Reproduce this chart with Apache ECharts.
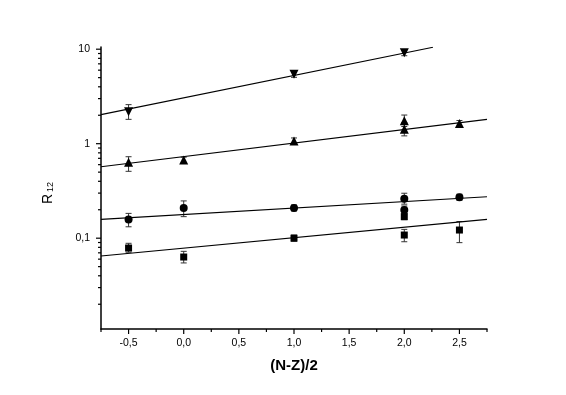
<!DOCTYPE html>
<html>
<head>
<meta charset="utf-8">
<script src="https://cdn.jsdelivr.net/npm/echarts@6/dist/echarts.min.js"></script>
<style>
html, body { margin: 0; padding: 0; background: #fff; }
#chart { width: 566px; height: 395px; }
</style>
</head>
<body>
<div id="chart"></div>
<script>
// ▼ points
const downX = [-0.5, 1.0, 2.0];
const downY = [2.18, 5.42, 9.18];
const downLo = [1.81, 5.04, 8.53];
const downHi = [2.59, 5.83, 9.88];

// ▲ points
const upX = [-0.5, 0.0, 1.0, 2.0, 2.0, 2.5];
const upY = [0.636, 0.672, 1.07, 1.75, 1.42, 1.64];
const upLo = [0.51, 0.625, 0.995, 1.52, 1.21, 1.52];
const upHi = [0.728, 0.72, 1.15, 2.01, 1.67, 1.76];

// ● points
const dotX = [-0.5, 0.0, 1.0, 2.0, 2.0, 2.5];
const dotY = [0.158, 0.209, 0.209, 0.262, 0.199, 0.271];
const dotLo = [0.132, 0.169, 0.194, 0.229, 0.181, 0.252];
const dotHi = [0.183, 0.248, 0.225, 0.299, 0.219, 0.292];

// ■ points
const sqX = [-0.5, 0.0, 1.0, 2.0, 2.0, 2.5];
const sqY = [0.0787, 0.0632, 0.1, 0.169, 0.108, 0.122];
const sqLo = [0.071, 0.0547, 0.093, 0.157, 0.0917, 0.0897];
const sqHi = [0.0883, 0.0726, 0.108, 0.182, 0.124, 0.15];

// fitted lines, end points
const fitDownX = [-0.75, 2.26];
const fitDownY = [2.03, 10.47];
const fitUpX = [-0.75, 2.75];
const fitUpY = [0.571, 1.81];
const fitDotX = [-0.75, 2.75];
const fitDotY = [0.158, 0.275];
const fitSqX = [-0.75, 2.75];
const fitSqY = [0.0649, 0.158];

// axis ticks
const xMajorTicks = [-0.5, 0, 0.5, 1, 1.5, 2, 2.5];
const xMinorTicks = [-0.75, -0.25, 0.25, 0.75, 1.25, 1.75, 2.25, 2.75];
const yMajorTicks = [0.1, 1, 10];
const yMinorTicks = [0.02, 0.03, 0.04, 0.05, 0.06, 0.07, 0.08, 0.09,
    0.2, 0.3, 0.4, 0.5, 0.6, 0.7, 0.8, 0.9,
    2, 3, 4, 5, 6, 7, 8, 9];

const xMin = -0.75, xMax = 2.75;
const yMin = 0.01094, yMax = 10.55;
const font = 'Liberation Sans';

const zip = (xs, ys) => xs.map((x, i) => [x, ys[i]]);
const bars = (xs, lo, hi) => xs.map((x, i) => [x, lo[i], hi[i]]);

// ticks: [x, y, 0 = y axis / 1 = x axis, major]
const tickData = [
    ...yMajorTicks.map(v => [xMin, v, 0, 1]),
    ...yMinorTicks.map(v => [xMin, v, 0, 0]),
    ...xMajorTicks.map(v => [v, yMin, 1, 1]),
    ...xMinorTicks.map(v => [v, yMin, 1, 0])
];

function renderTick(params, api) {
    const p = api.coord([api.value(0), api.value(1)]);
    const len = api.value(3) ? 5 : 3;
    const shape = api.value(2) === 1
        ? { x1: p[0], y1: p[1], x2: p[0], y2: p[1] + len }
        : { x1: p[0] - len, y1: p[1], x2: p[0], y2: p[1] };
    return { type: 'line', shape: shape, style: { stroke: '#000', lineWidth: 1.2 } };
}

function renderBar(params, api) {
    const lo = api.coord([api.value(0), api.value(1)]);
    const hi = api.coord([api.value(0), api.value(2)]);
    const w = 3;
    const style = { stroke: '#333', lineWidth: 1 };
    return {
        type: 'group',
        children: [
            { type: 'line', shape: { x1: lo[0], y1: lo[1], x2: hi[0], y2: hi[1] }, style: style },
            { type: 'line', shape: { x1: lo[0] - w, y1: lo[1], x2: lo[0] + w, y2: lo[1] }, style: style },
            { type: 'line', shape: { x1: hi[0] - w, y1: hi[1], x2: hi[0] + w, y2: hi[1] }, style: style }
        ]
    };
}

const barSeries = (data) => ({
    type: 'custom', renderItem: renderBar, data: data,
    encode: { x: 0, y: [1, 2] }, clip: false, silent: true, z: 2
});
const pointSeries = (data, symbol, size, rotate) => ({
    type: 'scatter', data: data, symbol: symbol, symbolSize: size, symbolRotate: rotate || 0,
    itemStyle: { color: '#000', opacity: 1 }, silent: true, z: 4
});
const fitSeries = (data) => ({
    type: 'line', data: data, showSymbol: false, symbol: 'none',
    lineStyle: { color: '#000', width: 1.1 }, silent: true, z: 3
});

const chart = echarts.init(document.getElementById('chart'));
chart.setOption({
    animation: false,
    backgroundColor: '#fff',
    grid: { left: 101, right: 79, top: 47, bottom: 66, containLabel: false, outerBoundsMode: 'none' },
    xAxis: {
        type: 'value', min: xMin, max: xMax, interval: 0.25,
        axisLine: { onZero: false, lineStyle: { color: '#000', width: 1.5 } },
        axisTick: { show: false },
        splitLine: { show: false },
        axisLabel: {
            margin: 9, color: '#000', fontSize: 10.5, fontFamily: font,
            formatter: v => Math.abs(v * 2 - Math.round(v * 2)) < 1e-6 ? v.toFixed(1).replace('.', ',') : ''
        },
        name: '(N-Z)/2', nameLocation: 'middle', nameGap: 29,
        nameTextStyle: { color: '#000', fontSize: 15, fontWeight: 'bold', fontFamily: font }
    },
    yAxis: {
        type: 'log', logBase: 10, min: yMin, max: yMax,
        axisLine: { show: true, onZero: false, lineStyle: { color: '#000', width: 1.5 } },
        axisTick: { show: false },
        splitLine: { show: false },
        axisLabel: {
            margin: 11, color: '#000', fontSize: 10.5, fontFamily: font,
            formatter: v => {
                const l = Math.log10(v);
                return Math.abs(l - Math.round(l)) < 1e-6 ? String(v).replace('.', ',') : '';
            }
        },
        name: '{r|R}{s|12}', nameLocation: 'middle', nameGap: 46, nameRotate: 90,
        nameTextStyle: {
            color: '#000', fontFamily: font, padding: [0, 10, 0, 0],
            rich: {
                r: { fontSize: 14, lineHeight: 14, verticalAlign: 'top', fontFamily: font, color: '#000' },
                s: { fontSize: 9, lineHeight: 9, verticalAlign: 'bottom', padding: [10, 0, 0, 2], fontFamily: font, color: '#000' }
            }
        }
    },
    series: [
        {
            type: 'custom', renderItem: renderTick, data: tickData,
            encode: { x: 0, y: 1 }, clip: false, silent: true, z: 5
        },
        fitSeries(zip(fitDownX, fitDownY)),
        fitSeries(zip(fitUpX, fitUpY)),
        fitSeries(zip(fitDotX, fitDotY)),
        fitSeries(zip(fitSqX, fitSqY)),
        barSeries(bars(downX, downLo, downHi)),
        barSeries(bars(upX, upLo, upHi)),
        barSeries(bars(dotX, dotLo, dotHi)),
        barSeries(bars(sqX, sqLo, sqHi)),
        pointSeries(zip(downX, downY), 'triangle', 9, 180),
        pointSeries(zip(upX, upY), 'triangle', 9),
        pointSeries(zip(dotX, dotY), 'circle', 8),
        pointSeries(zip(sqX, sqY), 'rect', 7)
    ]
});
</script>
</body>
</html>
